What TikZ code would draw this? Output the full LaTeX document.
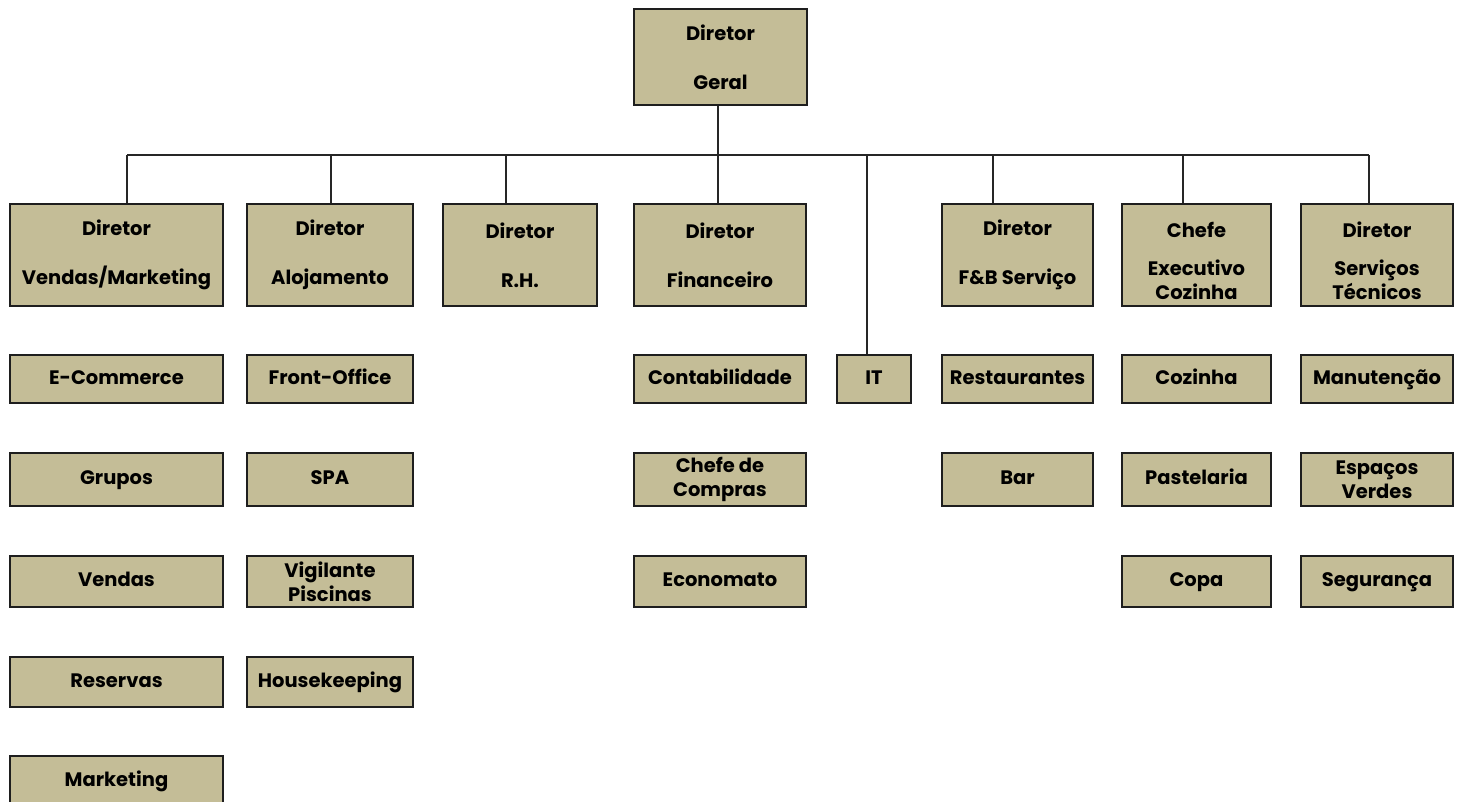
\documentclass[tikz,border=0pt]{standalone}
\usepackage{fontspec}
\setmainfont{Poppins}
\definecolor{tan}{HTML}{C4BD97}
\definecolor{edge}{HTML}{1E1E1E}
\tikzset{
  unit/.style={draw=edge, line width=1.8pt, fill=tan, inner sep=0pt, align=center,
    font=\fontsize{19.5}{24}\selectfont\bfseries},
  one/.style={text height=14pt, text depth=4pt},
  conn/.style={draw=black!85, line width=1.6pt},
  txt/.style={align=center, inner sep=0pt, font=\fontsize{19.5}{24}\selectfont\bfseries}
}
% \bx[options]{name}{x1}{y1}{x2}{y2}{text}
\newcommand{\bx}[7][]{%
  \node[unit,#1, minimum width=#5-#3, minimum height=#6-#4] (#2) at ({(#3+#5)/2},{-(#4+#6)/2}) {#7};}
\begin{document}
\begin{tikzpicture}[x=1pt,y=1pt]
\useasboundingbox (0,0) rectangle (1461,-801);
\coordinate (bus) at (0,-155);
% top
\bx{geral}{634}{9}{807}{105}{Diretor\\[25pt]Geral}
% directors
\bx{vm}{10}{204}{223}{306}{Diretor\\[25pt]Vendas/Marketing}
\bx{al}{247}{204}{413}{306}{Diretor\\[25pt]Alojamento}
\bx{rh}{443}{204}{597}{306}{Diretor\\[25pt]R.H.}
\bx{fi}{634}{204}{806}{306}{Diretor\\[25pt]Financeiro}
\bx{fb}{942}{204}{1093}{306}{Diretor\\[25pt]F\&B Serviço}
\bx{ce}{1122}{204}{1271}{306}{}
\bx{st}{1301}{204}{1453}{306}{}
\node[txt] (cet) at ([yshift=-6pt]ce.center) {Chefe\\[14pt]Executivo\\Cozinha};
\node[txt] (stt) at ([yshift=-6pt]st.center) {Diretor\\[14pt]Serviços\\Técnicos};
\bx[one]{it}{837}{355}{911}{403}{IT}
% column 1
\bx[one]{ec}{10}{355}{223}{403}{E-Commerce}
\bx[one]{gr}{10}{453}{223}{506}{Grupos}
\bx[one]{ve}{10}{556}{223}{607}{Vendas}
\bx[one]{re}{10}{657}{223}{707}{Reservas}
\bx[one]{ma}{10}{756}{223}{806}{Marketing}
% column 2
\bx[one]{fo}{247}{355}{413}{403}{Front-Office}
\bx[one]{spa}{247}{453}{413}{506}{SPA}
\bx{vp}{247}{556}{413}{607}{Vigilante\\Piscinas}
\bx[one]{hk}{247}{657}{413}{707}{Housekeeping}
% column 4
\bx[one]{co}{634}{355}{806}{403}{Contabilidade}
\bx{cc}{634}{453}{806}{506}{Chefe de\\Compras}
\bx[one]{eco}{634}{556}{806}{607}{Economato}
% column 6
\bx[one]{rs}{942}{355}{1093}{403}{Restaurantes}
\bx[one]{bar}{942}{453}{1093}{506}{Bar}
% column 7
\bx[one]{coz}{1122}{355}{1271}{403}{Cozinha}
\bx[one]{pa}{1122}{453}{1271}{506}{Pastelaria}
\bx[one]{cp}{1122}{556}{1271}{607}{Copa}
% column 8
\bx[one]{mn}{1301}{355}{1453}{403}{Manutenção}
\bx{ev}{1301}{453}{1453}{506}{Espaços\\Verdes}
\bx[one]{sg}{1301}{556}{1453}{607}{Segurança}
% connectors
\draw[conn] ([xshift=-2.5pt]geral.south) -- ([xshift=-2.5pt]geral.south |- bus);
\draw[conn] ([xshift=10.5pt]vm.north |- bus) -- ([xshift=-8pt]st.north |- bus);
\draw[conn] ([xshift=10.5pt]vm.north) -- ([xshift=10.5pt]vm.north |- bus);
\draw[conn] ([xshift=1pt]al.north) -- ([xshift=1pt]al.north |- bus);
\draw[conn] ([xshift=-14pt]rh.north) -- ([xshift=-14pt]rh.north |- bus);
\draw[conn] ([xshift=-2pt]fi.north) -- ([xshift=-2pt]fi.north |- bus);
\draw[conn] ([xshift=-7pt]it.north) -- ([xshift=-7pt]it.north |- bus);
\draw[conn] ([xshift=-24.5pt]fb.north) -- ([xshift=-24.5pt]fb.north |- bus);
\draw[conn] ([xshift=-13.5pt]ce.north) -- ([xshift=-13.5pt]ce.north |- bus);
\draw[conn] ([xshift=-8pt]st.north) -- ([xshift=-8pt]st.north |- bus);
\end{tikzpicture}
\end{document}
